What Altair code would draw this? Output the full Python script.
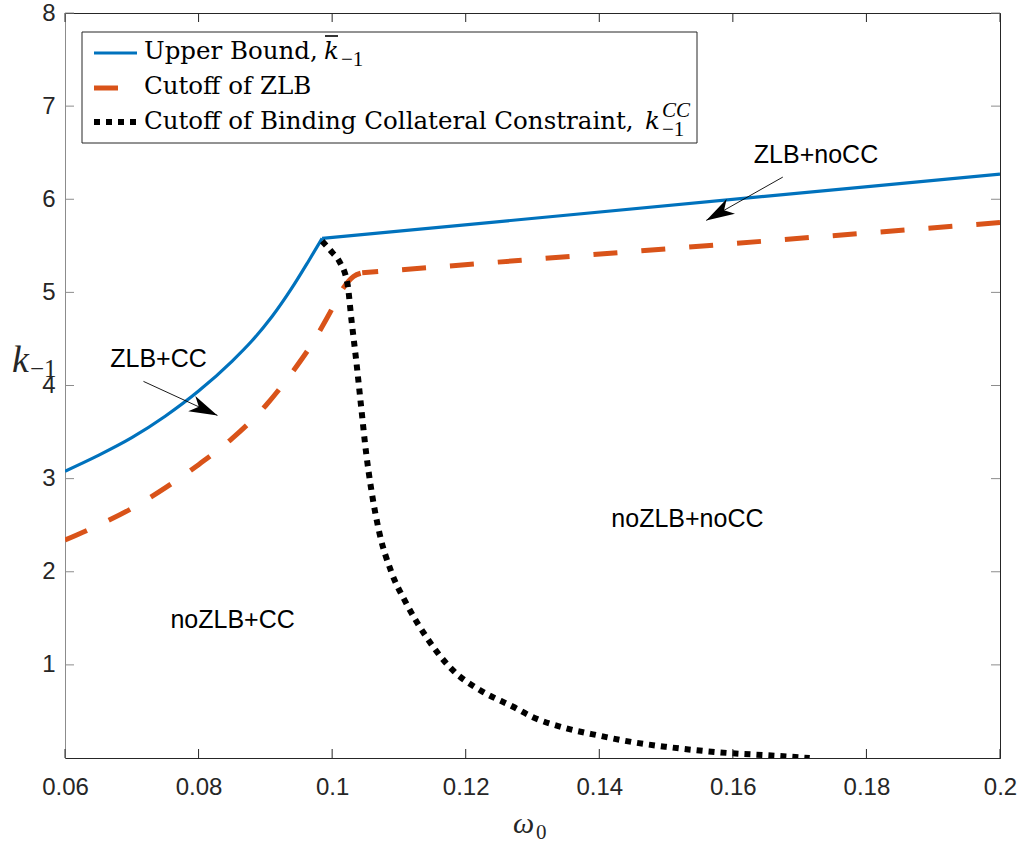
import math
import altair as alt
import pandas as pd

# ---------------- data ----------------
x_ticks = [0.06, 0.08, 0.10, 0.12, 0.14, 0.16, 0.18, 0.20]
y_ticks = [1, 2, 3, 4, 5, 6, 7, 8]

# Upper bound: curved branch up to the kink, then a straight branch
upper_x = [0.060, 0.065, 0.070, 0.075, 0.080, 0.085, 0.088, 0.091, 0.094, 0.0965, 0.0985, 0.200]
upper_y = [3.08, 3.25, 3.44, 3.67, 3.94, 4.26, 4.48, 4.74, 5.05, 5.34, 5.58, 6.27]
upper_kink = 0.0985

zlb_x = [0.060, 0.065, 0.070, 0.075, 0.080, 0.085, 0.090, 0.094, 0.097, 0.0995, 0.1016, 0.1032, 0.1045, 0.200]
zlb_y = [2.34, 2.50, 2.68, 2.90, 3.15, 3.43, 3.78, 4.14, 4.45, 4.76, 5.04, 5.17, 5.21, 5.75]
zlb_kink = 0.1045

cc_x = [0.0985, 0.1000, 0.1011, 0.1023, 0.1029, 0.1036, 0.1043, 0.1051, 0.1058, 0.1071, 0.1088,
        0.1111, 0.1141, 0.1181, 0.1221, 0.1271, 0.1300, 0.1350, 0.1400, 0.1450, 0.1500, 0.1550,
        0.1600, 0.1650, 0.1715]
cc_y = [5.55, 5.43, 5.33, 5.09, 4.70, 4.27, 3.80, 3.27, 2.91, 2.41, 2.01,
        1.66, 1.30, 0.94, 0.73, 0.55, 0.44, 0.32, 0.24, 0.17, 0.12, 0.08,
        0.05, 0.03, 0.00]

region_labels = ["ZLB+CC", "ZLB+noCC", "noZLB+noCC", "noZLB+CC"]
region_x = [0.0740, 0.17245, 0.1532, 0.0851]
region_y = [4.28, 6.48, 2.57, 1.48]

arrow_x1 = [0.07175, 0.16748]
arrow_y1 = [4.044, 6.238]
arrow_x2 = [0.08283, 0.15601]
arrow_y2 = [3.679, 5.773]

legend_labels = ["Upper Bound,", "Cutoff of ZLB", "Cutoff of Binding Collateral Constraint,"]

# ---------------- layout ----------------
W, H = 935, 745
XD = [0.06, 0.20]
YD = [0.0, 8.0]
BLUE = "#0072BD"
ORANGE = "#D95319"
AXC = "#262626"
GREY = "#8c8c8c"
LEGFONT = "DejaVu Serif"
LEGSIZE = 24.5

xs = alt.Scale(domain=XD, nice=False, zero=False)
ys = alt.Scale(domain=YD, nice=False, zero=False)

x_axis = alt.Axis(values=x_ticks, format="~g", ticks=False, grid=False, title=None,
                  domainColor=AXC, domainWidth=1, labelFont="Liberation Sans",
                  labelFontSize=24, labelColor=AXC, labelPadding=17, labelFlush=False)
y_axis = alt.Axis(values=y_ticks, format="d", ticks=False, grid=False, title=None,
                  domainColor=GREY, domainWidth=1, labelFont="Liberation Sans",
                  labelFontSize=24, labelColor=AXC, labelPadding=10, labelFlush=False)

X = alt.X("x:Q", scale=xs, axis=x_axis)
Y = alt.Y("y:Q", scale=ys, axis=y_axis)


def series(xv, yv):
    return pd.DataFrame({"x": xv, "y": yv, "i": list(range(len(xv)))})


def split(xv, yv, k):
    a = [(x, y) for x, y in zip(xv, yv) if x <= k]
    b = [(x, y) for x, y in zip(xv, yv) if x >= k]
    return series([p[0] for p in a], [p[1] for p in a]), series([p[0] for p in b], [p[1] for p in b])


up_curve, up_line = split(upper_x, upper_y, upper_kink)
zl_curve, zl_line = split(zlb_x, zlb_y, zlb_kink)

blue_kw = dict(color=BLUE, strokeWidth=3.2, clip=True)
orange_kw = dict(color=ORANGE, strokeWidth=5, strokeDash=[24, 24], strokeCap="butt", clip=True)

upper_a = alt.Chart(up_curve).mark_line(interpolate="monotone", **blue_kw).encode(x=X, y=Y, order="i:Q")
upper_b = alt.Chart(up_line).mark_line(**blue_kw).encode(x=X, y=Y, order="i:Q")
zlb_a = alt.Chart(zl_curve).mark_line(interpolate="monotone", **orange_kw).encode(x=X, y=Y, order="i:Q")
zlb_b = alt.Chart(zl_line).mark_line(strokeDashOffset=8, **orange_kw).encode(x=X, y=Y, order="i:Q")
cc = alt.Chart(series(cc_x, cc_y)).mark_line(
    color="black", strokeWidth=6, strokeDash=[6, 6], strokeCap="butt", clip=True,
    interpolate="monotone").encode(x=X, y=Y, order="i:Q")

# inward ticks on all four sides
xt = pd.DataFrame({"x": x_ticks})
yt = pd.DataFrame({"y": y_ticks})
tick_len = 9
xtick_b = alt.Chart(xt).mark_rule(color=AXC, strokeWidth=1).encode(
    x=X, y=alt.value(H), y2=alt.value(H - tick_len))
xtick_t = alt.Chart(xt).mark_rule(color=AXC, strokeWidth=1).encode(
    x=X, y=alt.value(0), y2=alt.value(tick_len))
ytick_l = alt.Chart(yt).mark_rule(color=GREY, strokeWidth=1).encode(
    y=Y, x=alt.value(0), x2=alt.value(tick_len))
ytick_r = alt.Chart(yt).mark_rule(color=GREY, strokeWidth=1).encode(
    y=Y, x=alt.value(W - tick_len), x2=alt.value(W))

# region labels
reg = pd.DataFrame({"x": region_x, "y": region_y, "t": region_labels})
region_text = alt.Chart(reg).mark_text(
    font="Liberation Sans", fontSize=25, color="black", align="center", baseline="middle"
).encode(x=X, y=Y, text="t:N")

# arrows
px_per_x = W / (XD[1] - XD[0])
px_per_y = H / (YD[1] - YD[0])
angles = []
for a, b, c, d in zip(arrow_x1, arrow_y1, arrow_x2, arrow_y2):
    dx = (c - a) * px_per_x
    dy = -(d - b) * px_per_y
    angles.append(math.degrees(math.atan2(dx, -dy)) % 360)
arr = pd.DataFrame({"x": arrow_x1, "y": arrow_y1, "x2": arrow_x2, "y2": arrow_y2, "ang": angles})
arrow_lines = alt.Chart(arr).mark_rule(color="black", strokeWidth=0.9).encode(
    x=X, y=Y, x2="x2:Q", y2="y2:Q")
head_shape = "M0,0 L0.6,2 L0,1.45 L-0.6,2 Z"
arrow_heads = alt.Chart(arr).mark_point(
    shape=head_shape, filled=True, color="black", size=800, opacity=1, strokeWidth=0
).encode(x=alt.X("x2:Q", scale=xs, axis=x_axis), y=alt.Y("y2:Q", scale=ys, axis=y_axis),
         angle=alt.Angle("ang:Q", scale=None))

# ---------------- legend (pixel layout) ----------------
one = pd.DataFrame({"a": [0]})
leg_box = alt.Chart(one).mark_rect(fill="white", stroke=AXC, strokeWidth=1).encode(
    x=alt.value(17), x2=alt.value(632), y=alt.value(19), y2=alt.value(130))
leg_blue = alt.Chart(one).mark_rule(color=BLUE, strokeWidth=3.2).encode(
    x=alt.value(29), x2=alt.value(72), y=alt.value(40))
leg_orange = alt.Chart(one).mark_rule(color=ORANGE, strokeWidth=5, strokeDash=[24, 24],
                                      strokeCap="butt").encode(
    x=alt.value(29), x2=alt.value(72), y=alt.value(75))
leg_black = alt.Chart(one).mark_rule(color="black", strokeWidth=6, strokeDash=[6, 6],
                                     strokeCap="butt").encode(
    x=alt.value(29), x2=alt.value(72), y=alt.value(109))


def ptext(df, **kw):
    return alt.Chart(df).mark_text(**kw).encode(
        x=alt.X("px:Q", scale=None), y=alt.Y("py:Q", scale=None), text="t:N")


leg_main = ptext(pd.DataFrame({"px": [79, 79, 79], "py": [46, 81, 116], "t": legend_labels}),
                 font=LEGFONT, fontSize=LEGSIZE, align="left", baseline="alphabetic", color="black")
leg_k = ptext(pd.DataFrame({"px": [259, 580], "py": [46, 116], "t": ["k", "k"]}),
              font=LEGFONT, fontSize=LEGSIZE, fontStyle="italic", align="left",
              baseline="alphabetic", color="black")
leg_bar = alt.Chart(one).mark_rule(color="black", strokeWidth=1.6).encode(
    x=alt.value(260), x2=alt.value(273), y=alt.value(23))
leg_sub = ptext(pd.DataFrame({"px": [276, 597], "py": [53, 123], "t": ["\u22121", "\u22121"]}),
                font="Liberation Serif", fontSize=21, align="left", baseline="alphabetic",
                color="black")
leg_sup = ptext(pd.DataFrame({"px": [597], "py": [104], "t": ["CC"]}),
                font="Liberation Serif", fontSize=21, fontStyle="italic", align="left",
                baseline="alphabetic", color="black")

# axis titles (math style)
x_title = ptext(pd.DataFrame({"px": [448], "py": [820], "t": ["\u03c9"]}),
                font="Liberation Serif", fontSize=30, fontStyle="italic", align="left",
                baseline="alphabetic", color=AXC)
x_title_sub = ptext(pd.DataFrame({"px": [471], "py": [826], "t": ["0"]}),
                    font="Liberation Serif", fontSize=21, align="left",
                    baseline="alphabetic", color=AXC)
y_title = ptext(pd.DataFrame({"px": [-53], "py": [359], "t": ["k"]}),
                font="Liberation Serif", fontSize=38, fontStyle="italic", align="left",
                baseline="alphabetic", color=AXC)
y_title_sub = ptext(pd.DataFrame({"px": [-35], "py": [364], "t": ["\u22121"]}),
                    font="Liberation Serif", fontSize=25, align="left",
                    baseline="alphabetic", color=AXC)

chart = alt.layer(
    upper_a, upper_b, zlb_a, zlb_b, cc,
    xtick_b, xtick_t, ytick_l, ytick_r,
    arrow_lines, arrow_heads, region_text,
    leg_box, leg_blue, leg_orange, leg_black,
    leg_main, leg_k, leg_bar, leg_sub, leg_sup,
    x_title, x_title_sub, y_title, y_title_sub,
).properties(
    width=W, height=H,
    autosize=alt.AutoSizeParams(type="none"),
    padding={"left": 65, "top": 13, "right": 24, "bottom": 88},
    background="white",
).configure_view(stroke=AXC, strokeWidth=1)

chart.save("out.html", embed_options={"renderer": "svg", "actions": False})
